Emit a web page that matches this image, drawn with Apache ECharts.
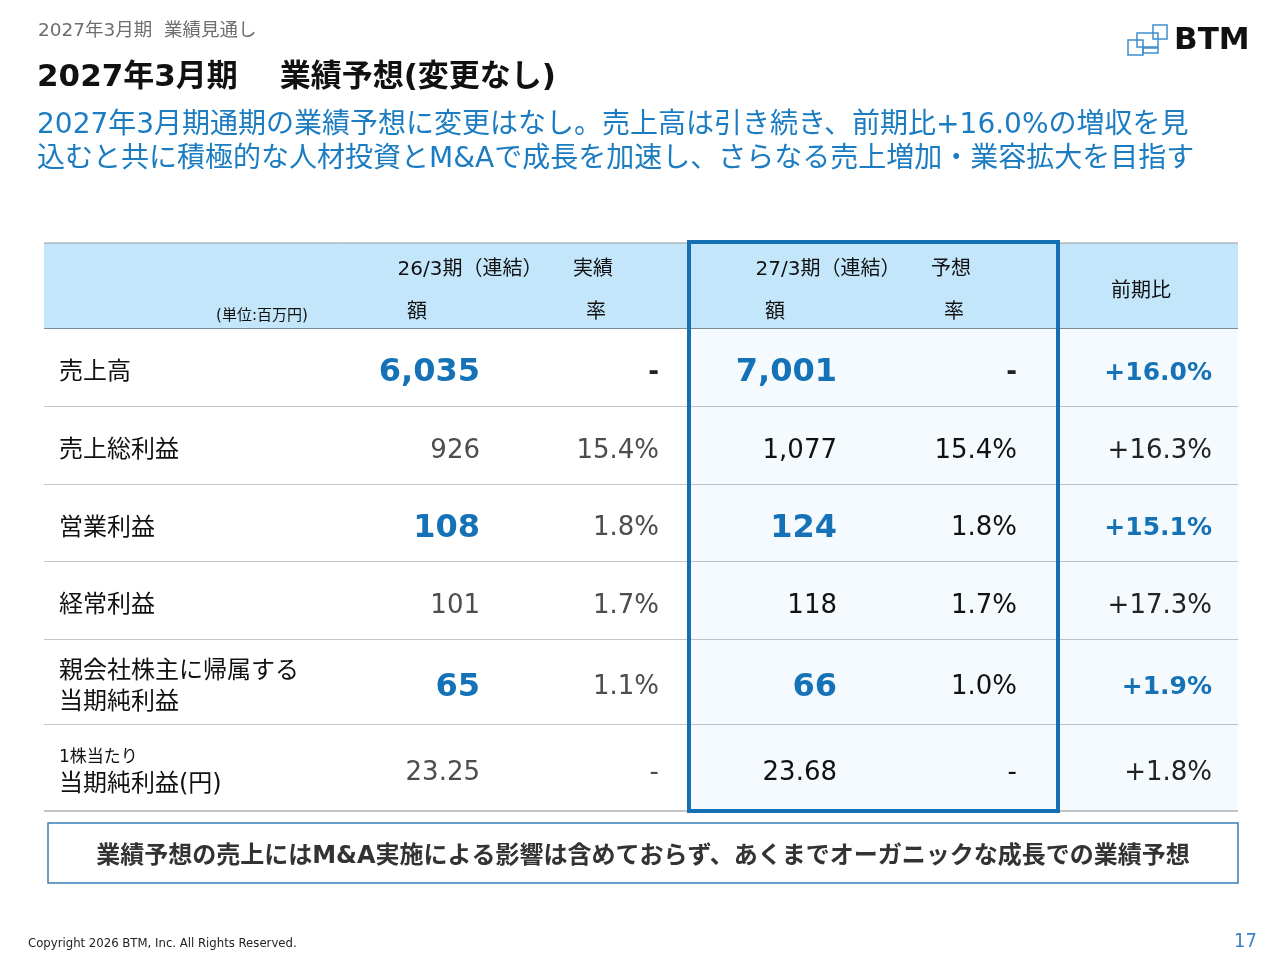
<!DOCTYPE html>
<html>
<head>
<meta charset="utf-8">
<script src="https://cdn.jsdelivr.net/npm/echarts@6/dist/echarts.min.js"></script>
<style>
  html, body { margin: 0; padding: 0; background: #fff; }
  #main { width: 1280px; height: 960px; }
</style>
</head>
<body>
<div id="main"></div>
<script>
// 表の中身（単位：百万円）
const items = ['売上高', '売上総利益', '営業利益', '経常利益', '親会社株主に帰属する\n当期純利益', '1株当たり\n当期純利益(円)']
const actual = [6035, 926, 108, 101, 65, 23.25]
const actualRate = [null, 15.4, 1.8, 1.7, 1.1, null]
const forecast = [7001, 1077, 124, 118, 66, 23.68]
const forecastRate = [null, 15.4, 1.8, 1.7, 1.0, null]
const yoy = [16.0, 16.3, 15.1, 17.3, 1.9, 1.8]
const highlight = [true, false, true, false, true, false]

// 見出し
const headActual = ['26/3期（連結）', '実績', '額', '率']
const headForecast = ['27/3期（連結）', '予想', '額', '率']
const headYoy = '前期比'
const unitLabel = '(単位:百万円)'

// レイアウト（表内の座標単位）
const colEdges = [0, 316, 466, 645, 818, 1014, 1194]
const colAnchor = [15, 436, 615, 793, 973, 1168]
const rowEdges = [0, 86, 164, 242, 319, 397, 482, 568]

const FONT = '"DejaVu Sans", "Noto Sans CJK JP", sans-serif'
const NARROW = '"Liberation Sans Narrow", "DejaVu Sans Condensed", sans-serif'
const BLUE = '#1572b6'

const fmtNum = v => Number.isInteger(v) ? v.toLocaleString('en-US') : v.toFixed(2)
const fmtRate = v => v == null ? '-' : v.toFixed(1) + '%'

function cellContent(c, r) {
  const hi = highlight[r]
  if (c === 0) {
    if (r === 5) {
      const parts = items[r].split('\n')
      return {
        text: '{s|' + parts[0] + '}\n{m|' + parts[1] + '}',
        align: 'left',
        rich: {
          s: { fontSize: 17, lineHeight: 24, fontFamily: FONT, fill: '#111' },
          m: { fontSize: 24, lineHeight: 30, fontFamily: FONT, fill: '#111' }
        }
      }
    }
    return { text: items[r], align: 'left', fontSize: 24, lineHeight: 31, fill: '#111' }
  }
  if (c === 1 || c === 3) {
    const v = c === 1 ? actual[r] : forecast[r]
    if (hi) return { text: fmtNum(v), align: 'right', fontSize: 32, fontWeight: 'bold', fill: BLUE }
    return { text: fmtNum(v), align: 'right', fontSize: 26, fill: c === 1 ? '#4d4d4d' : '#111' }
  }
  if (c === 2 || c === 4) {
    const v = c === 2 ? actualRate[r] : forecastRate[r]
    if (v == null && hi) return { text: '-', align: 'right', fontSize: 26, fontWeight: 'bold', fill: '#222' }
    return { text: fmtRate(v), align: 'right', fontSize: 26, fill: c === 2 ? '#4d4d4d' : '#111' }
  }
  const t = '+' + yoy[r].toFixed(1) + '%'
  if (hi) return { text: t, align: 'right', fontSize: 25, fontWeight: 'bold', fill: BLUE }
  return { text: t, align: 'right', fontSize: 26, fill: '#222' }
}

const cells = []
for (let r = 0; r < items.length; r++) {
  for (let c = 0; c < 6; c++) cells.push([c, r])
}

const chart = echarts.init(document.getElementById('main'), null, { renderer: 'canvas' })

const hText = (text, x, y, size) => ({
  type: 'text', z: 10,
  style: { text, x, y, align: 'center', verticalAlign: 'middle', font: (size || 20) + 'px ' + FONT, fill: '#111' }
})

const option = {
  backgroundColor: '#fff',
  animation: false,
  grid: { left: 44, top: 243, width: 1194, height: 568 },
  xAxis: { type: 'value', min: 0, max: 1194, show: false },
  yAxis: { type: 'value', min: 0, max: 568, inverse: true, show: false },
  series: [
    {
      // 見出し行の背景
      type: 'custom',
      data: [[0, 0]],
      silent: true,
      z: 1,
      renderItem: (params, api) => {
        const a = api.coord([colEdges[0], rowEdges[0]])
        const b = api.coord([colEdges[6], rowEdges[1]])
        return {
          type: 'group',
          children: [
            { type: 'rect', shape: { x: a[0], y: a[1], width: b[0] - a[0], height: b[1] - a[1] }, style: { fill: '#c4e6fb' } },
            { type: 'line', shape: { x1: a[0], y1: a[1], x2: b[0], y2: a[1] }, style: { stroke: '#9a9a9a', lineWidth: 1 } },
            { type: 'line', shape: { x1: a[0], y1: b[1], x2: b[0], y2: b[1] }, style: { stroke: '#333', lineWidth: 1.2 } }
          ]
        }
      }
    },
    {
      // 本体セル
      type: 'custom',
      data: cells,
      silent: true,
      z: 2,
      renderItem: (params, api) => {
        const c = api.value(0)
        const r = api.value(1)
        const tl = api.coord([colEdges[c], rowEdges[r + 1]])
        const br = api.coord([colEdges[c + 1], rowEdges[r + 2]])
        const ax = api.coord([colAnchor[c], 0])[0]
        const ay = (tl[1] + br[1]) / 2 + 5
        const cc = cellContent(c, r)
        const style = {
          text: cc.text,
          x: ax,
          y: ay,
          align: cc.align,
          verticalAlign: 'middle',
          fontFamily: FONT,
          fontSize: cc.fontSize || 24,
          fontWeight: cc.fontWeight || 'normal',
          lineHeight: cc.lineHeight,
          fill: cc.fill || '#111'
        }
        if (cc.rich) style.rich = cc.rich
        return {
          type: 'group',
          children: [
            { type: 'rect', shape: { x: tl[0], y: tl[1], width: br[0] - tl[0], height: br[1] - tl[1] }, style: { fill: c >= 3 ? '#f4fafe' : '#fff' } },
            { type: 'line', shape: { x1: tl[0], y1: br[1], x2: br[0], y2: br[1] }, style: { stroke: '#8a8a8a', lineWidth: 1 } },
            { type: 'text', style }
          ]
        }
      }
    },
    {
      // 27/3期 予想の枠
      type: 'custom',
      data: [[3, 0]],
      silent: true,
      z: 5,
      renderItem: (params, api) => {
        const a = api.coord([colEdges[3], rowEdges[0] - 1])
        const b = api.coord([colEdges[5], rowEdges[7]])
        return {
          type: 'rect',
          shape: { x: a[0], y: a[1], width: b[0] - a[0], height: b[1] - a[1] },
          style: { fill: 'none', stroke: '#1470b2', lineWidth: 4 }
        }
      }
    }
  ],
  graphic: [
    { type: 'text', left: 38, top: 22, z: 10, style: { text: '2027年3月期  業績見通し', font: '18.5px ' + FONT, fill: '#6e6e6e' } },
    { type: 'text', left: 37, top: 62, z: 10, style: { text: '2027年3月期\u3000 業績予想(変更なし)', font: 'bold 31px ' + FONT, fill: '#111' } },
    { type: 'text', left: 37, top: 109, z: 10, style: { text: '2027年3月期通期の業績予想に変更はなし。売上高は引き続き、前期比+16.0%の増収を見\n込むと共に積極的な人材投資とM&Aで成長を加速し、さらなる売上増加・業容拡大を目指す', font: '28px ' + FONT, lineHeight: 34, fill: '#1b7cc2' } },
    // ロゴ
    { type: 'rect', z: 10, shape: { x: 1128, y: 40, width: 15, height: 15 }, style: { fill: 'none', stroke: '#3b8fd0', lineWidth: 1.5 } },
    { type: 'rect', z: 10, shape: { x: 1137, y: 33, width: 21, height: 14 }, style: { fill: 'none', stroke: '#3b8fd0', lineWidth: 1.5 } },
    { type: 'rect', z: 10, shape: { x: 1153, y: 25, width: 14, height: 14 }, style: { fill: 'none', stroke: '#3b8fd0', lineWidth: 1.5 } },
    { type: 'rect', z: 10, shape: { x: 1143, y: 48, width: 15, height: 5 }, style: { fill: 'none', stroke: '#3b8fd0', lineWidth: 1.5 } },
    { type: 'text', left: 1174, top: 25, z: 10, style: { text: 'BTM', font: 'bold 31px "DejaVu Sans", sans-serif', fill: '#111' } },
    // 見出しテキスト
    hText(headActual[0], 470, 270),
    hText(headActual[1], 593, 270),
    hText(headActual[2], 417, 313),
    hText(headActual[3], 596, 313),
    hText(unitLabel, 262, 316, 15),
    hText(headForecast[0], 828, 270),
    hText(headForecast[1], 951, 270),
    hText(headForecast[2], 775, 313),
    hText(headForecast[3], 954, 313),
    hText(headYoy, 1141, 292),
    // 注記ボックス
    { type: 'rect', z: 10, shape: { x: 48, y: 823, width: 1190, height: 60 }, style: { fill: '#fff', stroke: '#3a7fb8', lineWidth: 1.5 } },
    { type: 'text', z: 11, style: { text: '業績予想の売上にはM&A実施による影響は含めておらず、あくまでオーガニックな成長での業績予想', x: 643, y: 857, align: 'center', verticalAlign: 'middle', font: 'bold 24px ' + FONT, fill: '#333' } },
    // フッター
    { type: 'text', z: 10, style: { text: 'Copyright 2026 BTM, Inc. All Rights Reserved.', x: 28, y: 944, verticalAlign: 'middle', font: '13px ' + NARROW, fill: '#222' } },
    { type: 'text', z: 10, style: { text: '17', x: 1257, y: 942, align: 'right', verticalAlign: 'middle', font: '20px ' + NARROW, fill: '#3b82c4' } }
  ]
}

option && chart.setOption(option)
</script>
</body>
</html>
